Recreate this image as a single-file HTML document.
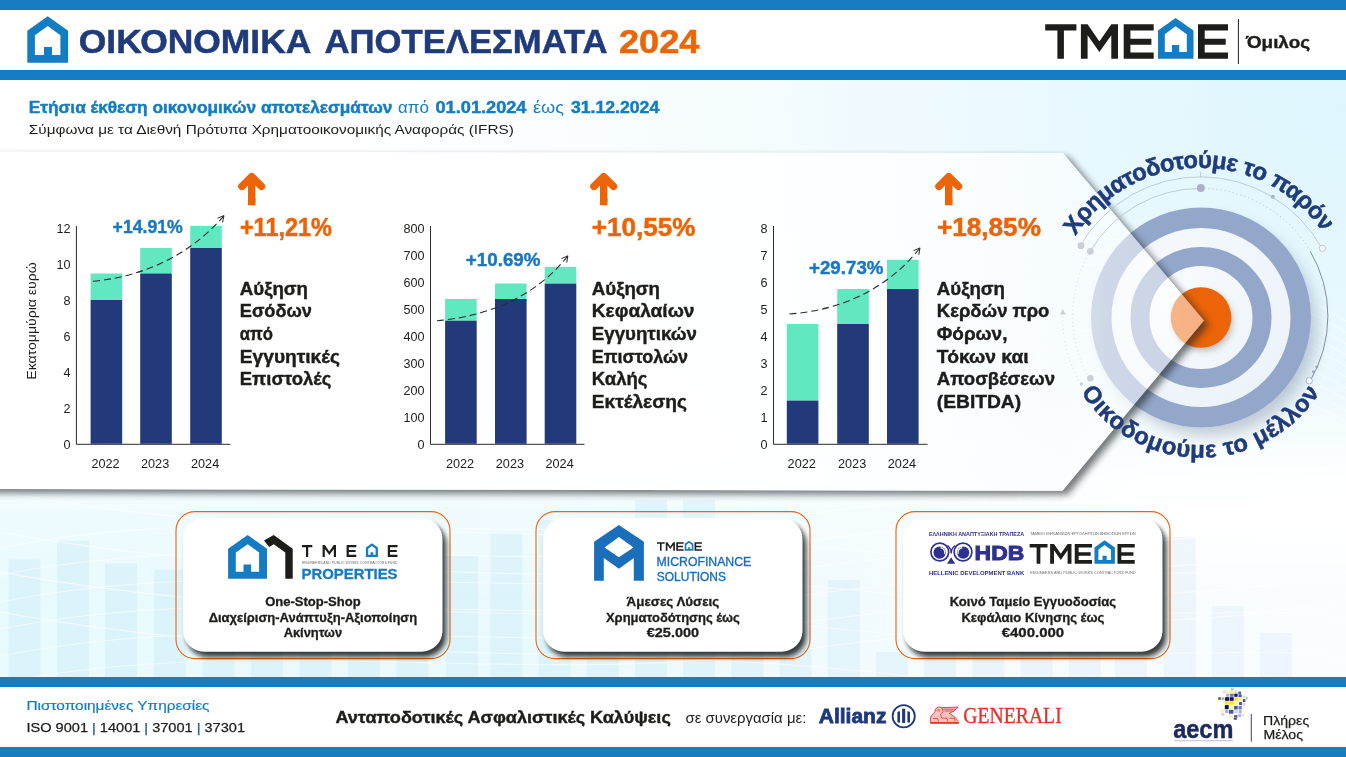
<!DOCTYPE html>
<html lang="el">
<head>
<meta charset="utf-8">
<title>ΟΙΚΟΝΟΜΙΚΑ ΑΠΟΤΕΛΕΣΜΑΤΑ 2024</title>
<style>
html,body{margin:0;padding:0;background:#fff;}
body{width:1346px;height:757px;overflow:hidden;font-family:"Liberation Sans",sans-serif;}
svg{display:block;position:absolute;left:0;top:0;will-change:transform;}
text{font-family:"Liberation Sans",sans-serif;}
.b{font-weight:bold;}
.serif{font-family:"Liberation Serif",serif;}
</style>
</head>
<body>
<svg width="1346" height="757" viewBox="0 0 1346 757">
<defs>
  <radialGradient id="bgTop" gradientUnits="userSpaceOnUse" cx="1346" cy="110" r="1000" gradientTransform="translate(1346 110) scale(1 0.8) translate(-1346 -110)">
    <stop offset="0" stop-color="#ddf6fd"/>
    <stop offset="0.35" stop-color="#ebf9fe"/>
    <stop offset="0.65" stop-color="#f6fcfe"/>
    <stop offset="1" stop-color="#ffffff"/>
  </radialGradient>
  <linearGradient id="bgFade" x1="0" y1="0" x2="0" y2="1">
    <stop offset="0" stop-color="#ffffff" stop-opacity="0"/>
    <stop offset="1" stop-color="#ffffff" stop-opacity="0.55"/>
  </linearGradient>
  <linearGradient id="bgLow" gradientUnits="userSpaceOnUse" x1="0" y1="0" x2="1346" y2="0">
    <stop offset="0" stop-color="#e8fafe"/>
    <stop offset="0.42" stop-color="#e9fafe"/>
    <stop offset="0.62" stop-color="#f0fbfe"/>
    <stop offset="0.76" stop-color="#f6fcfe"/>
    <stop offset="1" stop-color="#f9fdfe"/>
  </linearGradient>
  <linearGradient id="bgLowFade" x1="0" y1="0" x2="0" y2="1">
    <stop offset="0" stop-color="#ffffff" stop-opacity="0"/>
    <stop offset="0.45" stop-color="#ffffff" stop-opacity="0.9"/>
    <stop offset="0.64" stop-color="#ffffff" stop-opacity="0.9"/>
    <stop offset="1" stop-color="#ffffff" stop-opacity="0"/>
  </linearGradient>
  <linearGradient id="barFade" gradientUnits="userSpaceOnUse" x1="0" y1="0" x2="1346" y2="0">
    <stop offset="0" stop-color="#c9e9f5" stop-opacity="0.42"/>
    <stop offset="0.5" stop-color="#c9e9f5" stop-opacity="0.4"/>
    <stop offset="0.8" stop-color="#d6e8f5" stop-opacity="0.36"/>
    <stop offset="1" stop-color="#d6e8f5" stop-opacity="0.32"/>
  </linearGradient>
  
  <filter id="blur8" x="-30%" y="-30%" width="160%" height="160%"><feGaussianBlur stdDeviation="8"/></filter>
  <filter id="blur4" x="-30%" y="-30%" width="160%" height="160%"><feGaussianBlur stdDeviation="4"/></filter>
  <filter id="blur3" x="-30%" y="-30%" width="160%" height="160%"><feGaussianBlur stdDeviation="3"/></filter>
  <linearGradient id="panelFill" gradientUnits="userSpaceOnUse" x1="0" y1="0" x2="1204" y2="0">
    <stop offset="0" stop-color="#ffffff" stop-opacity="0.97"/>
    <stop offset="0.6" stop-color="#ffffff" stop-opacity="0.92"/>
    <stop offset="0.80" stop-color="#fdfeff" stop-opacity="0.84"/>
    <stop offset="0.885" stop-color="#fbfdff" stop-opacity="0.68"/>
    <stop offset="0.92" stop-color="#ffffff" stop-opacity="0.55"/>
    <stop offset="1" stop-color="#ffffff" stop-opacity="0.5"/>
  </linearGradient>
  <clipPath id="outsidePanel" clip-rule="evenodd">
    <path d="M-50 100H1400V560H-50Z M-20 151.8L1062.9 153L1204 320.4L1062.5 490.7L-20 489Z"/>
  </clipPath>
  <radialGradient id="discFill" gradientUnits="userSpaceOnUse" cx="1180" cy="290" r="150">
    <stop offset="0" stop-color="#f8fbfe"/>
    <stop offset="1" stop-color="#e9f1f8"/>
  </radialGradient>
<path id="arcTop" d="M1075.5 236.1A148.5 148.5 0 0 1 1322.7 232.0" fill="none"/>
<path id="arcBot" d="M1081.0 392.1A141.5 141.5 0 0 0 1319.7 392.5" fill="none"/>
<filter id="blur35" x="-5%" y="-10%" width="110%" height="120%"><feGaussianBlur stdDeviation="3.5"/></filter>
<filter id="blur25" x="-10%" y="-10%" width="120%" height="125%"><feGaussianBlur stdDeviation="2.6"/></filter>
<linearGradient id="lowMaskG" gradientUnits="userSpaceOnUse" x1="0" y1="455" x2="0" y2="515">
    <stop offset="0" stop-color="#000"/><stop offset="1" stop-color="#fff"/>
  </linearGradient>
  <mask id="lowMask" maskUnits="userSpaceOnUse" x="0" y="455" width="1346" height="225"><rect x="0" y="455" width="1346" height="225" fill="url(#lowMaskG)"/></mask>
<linearGradient id="fadeMaskXG" gradientUnits="userSpaceOnUse" x1="0" y1="0" x2="1346" y2="0">
    <stop offset="0" stop-color="#444"/><stop offset="0.7" stop-color="#555"/><stop offset="0.85" stop-color="#fff"/><stop offset="1" stop-color="#fff"/>
  </linearGradient>
  <mask id="fadeMaskX" maskUnits="userSpaceOnUse" x="0" y="380" width="1346" height="230"><rect x="0" y="380" width="1346" height="230" fill="url(#fadeMaskXG)"/></mask>
<!--DEFS-->
</defs>

<!-- ===== BACKGROUND ===== -->
<rect x="0" y="0" width="1346" height="757" fill="#ffffff"/>
<rect x="0" y="80" width="1346" height="420" fill="url(#bgTop)"/>
<rect x="0" y="455" width="1346" height="225" fill="url(#bgLow)" mask="url(#lowMask)"/>
<rect x="0" y="380" width="1346" height="230" fill="url(#bgLowFade)" mask="url(#fadeMaskX)"/>
<g fill="url(#barFade)"><rect x="8.4" y="559.6" width="32" height="117.4"/><rect x="57" y="541" width="32" height="136.0"/><rect x="105" y="563.6" width="32" height="113.4"/><rect x="154" y="569.6" width="32" height="107.4"/><rect x="202.5" y="585" width="32" height="92.0"/><rect x="251" y="560" width="32" height="117.0"/><rect x="299.5" y="548" width="32" height="129.0"/><rect x="348" y="570" width="32" height="107.0"/><rect x="396.5" y="590" width="32" height="87.0"/><rect x="446" y="555.8" width="32" height="121.2"/><rect x="490.4" y="532.7" width="32" height="144.3"/><rect x="538.6" y="520" width="32" height="157.0"/><rect x="586.8" y="545" width="32" height="132.0"/><rect x="635" y="500" width="32" height="177.0"/><rect x="683" y="500" width="32" height="177.0"/><rect x="731.4" y="540" width="32" height="137.0"/><rect x="779.6" y="560" width="32" height="117.0"/><rect x="827.8" y="580" width="32" height="97.0"/><rect x="876" y="652" width="32" height="25.0"/><rect x="924.2" y="610" width="32" height="67.0"/><rect x="972.4" y="590" width="32" height="87.0"/><rect x="1020.6" y="630" width="32" height="47.0"/><rect x="1068.8" y="640" width="32" height="37.0"/><rect x="1115" y="659" width="32" height="18.0"/><rect x="1163.8" y="537" width="32" height="140.0"/><rect x="1211.8" y="605.9" width="32" height="71.1"/><rect x="1260" y="633" width="32" height="44.0"/></g>
<g fill="none" stroke="#ffffff" stroke-width="1.1" opacity="0.6"><path d="M-10 550C250 495 520 555 800 515S1200 500 1360 460" /><path d="M-10 577C250 522 520 582 800 542S1200 527 1360 487" /><path d="M-10 604C250 549 520 609 800 569S1200 554 1360 514" /><path d="M-10 631C250 576 520 636 800 596S1200 581 1360 541" /><path d="M-10 658C250 603 520 663 800 623S1200 608 1360 568" /><path d="M-10 685C250 630 520 690 800 650S1200 635 1360 595" /><path d="M-10 490C300 550 600 520 900 555S1250 560 1360 580" /><path d="M-10 530C300 590 600 560 900 595S1250 600 1360 620" /><path d="M-10 570C300 630 600 600 900 635S1250 640 1360 660" /><path d="M-10 610C300 670 600 640 900 675S1250 680 1360 700" /></g>
<g fill="none" stroke="#ffffff" stroke-width="1" opacity="0.55"><path d="M980 250C1120 215 1250 260 1360 330"/><path d="M980 264C1120 228 1250 272 1360 341"/><path d="M980 278C1120 241 1250 284 1360 352"/><path d="M980 292C1120 254 1250 296 1360 363"/><path d="M980 306C1120 267 1250 308 1360 374"/><path d="M980 320C1120 280 1250 320 1360 385"/><path d="M980 334C1120 293 1250 332 1360 396"/><path d="M980 348C1120 306 1250 344 1360 407"/><path d="M980 362C1120 319 1250 356 1360 418"/><path d="M980 376C1120 332 1250 368 1360 429"/></g>
<!--BGDECOR-->

<!-- ===== HEADER ===== -->
<rect x="0" y="0" width="1346" height="10" fill="#167dc3"/>
<rect x="0" y="10" width="1346" height="60" fill="#ffffff"/>
<rect x="0" y="70" width="1346" height="10" fill="#167dc3"/>

<!-- house icon -->
<path fill="#147cc2" fill-rule="evenodd" d="M27.3 62.7V30.8L47.75 16.2L68.1 30.8V62.7Z M34.9 55V35.2L47.75 25.9L60.4 35.2V55H52V47H44V55Z"/>
<!-- title -->
<g class="b" font-weight="bold" font-size="34" fill="#1f3b7c" stroke="#1f3b7c" stroke-width="0.5">
  <text x="78.8" y="53.2" textLength="232.5" lengthAdjust="spacingAndGlyphs">ΟΙΚΟΝΟΜΙΚΑ</text>
  <text x="324.5" y="53.2" textLength="283" lengthAdjust="spacingAndGlyphs">ΑΠΟΤΕΛΕΣΜΑΤΑ</text>
  <text x="619" y="53.2" textLength="80.5" lengthAdjust="spacingAndGlyphs" fill="#ec6608" stroke="#ec6608">2024</text>
</g>
<!-- TMEDE logo -->
<g id="tmede">
  <g fill="#1d1d1b">
    <path d="M1045.2 24.2H1076.4V30.6H1063.9V58.8H1057.4V30.6H1045.2Z"/>
    <path d="M1080.9 58.8V24.2H1087.6L1099.4 41.5L1111.3 24.2H1118V58.8H1111.3V35.2L1099.4 52L1087.6 35.2V58.8Z"/>
    <path d="M1123.7 24.2H1153.7V30.6H1130.4V38.7H1151.4V44.7H1130.4V52.4H1153.7V58.8H1123.7Z"/>
    <path d="M1198 24.2H1228V30.6H1204.7V38.7H1225.7V44.7H1204.7V52.4H1228V58.8H1198Z"/>
  </g>
  <path fill="#147cc2" fill-rule="evenodd" d="M1158 58.8V30.6L1175.6 17.9L1193.5 30.6V58.8Z M1164.8 52.1V34.3L1175.6 26.3L1186.8 34.3V52.1H1179.2V45H1172V52.1Z"/>
</g>
<rect x="1237.9" y="19" width="1" height="45" fill="#1d1d1b"/>
<text x="1246" y="48.4" font-size="16.5" font-weight="bold" fill="#1d1d1b" textLength="64" lengthAdjust="spacingAndGlyphs" stroke="#1d1d1b" stroke-width="0.4">Όμιλος</text>
<!--HEADER-->


<!-- ===== SUBTITLE ===== -->
<g font-size="16.5" fill="#147cc2" stroke="#147cc2" stroke-width="0">
  <text x="28.8" y="113.2" font-weight="bold" stroke-width="0.45" textLength="363.6" lengthAdjust="spacingAndGlyphs">Ετήσια έκθεση οικονομικών αποτελεσμάτων</text>
  <text x="398" y="113.2" textLength="31" lengthAdjust="spacingAndGlyphs">από</text>
  <text x="435.5" y="113.2" font-weight="bold" stroke-width="0.45" textLength="91" lengthAdjust="spacingAndGlyphs">01.01.2024</text>
  <text x="533" y="113.2" textLength="31" lengthAdjust="spacingAndGlyphs">έως</text>
  <text x="571" y="113.2" font-weight="bold" stroke-width="0.45" textLength="88.2" lengthAdjust="spacingAndGlyphs">31.12.2024</text>
</g>
<text x="28.8" y="134.2" font-size="13.5" fill="#1d1d1b" textLength="485" lengthAdjust="spacingAndGlyphs">Σύμφωνα με τα Διεθνή Πρότυπα Χρηματοοικονομικής Αναφοράς (IFRS)</text>
<!--SUBTITLE-->


<!-- ===== TARGET GRAPHIC ===== -->
<g id="target">
  <circle cx="1209" cy="328" r="108" fill="#3a4a6b" opacity="0.28" filter="url(#blur8)"/>
  <circle cx="1201" cy="317.5" r="110" fill="url(#discFill)"/>
  <circle cx="1201" cy="317.5" r="99.75" fill="none" stroke="#93a7ca" stroke-width="20.5"/>
  <circle cx="1201" cy="317.5" r="61" fill="none" stroke="#93a7ca" stroke-width="19"/>
  <circle cx="1203" cy="321" r="30" fill="#5a3a20" opacity="0.3" filter="url(#blur3)"/>
  <circle cx="1201" cy="317.5" r="30.3" fill="#ec6408"/>
</g>
<!--TARGET-->


<!-- ===== PANEL ===== -->
<g clip-path="url(#outsidePanel)">
  <path d="M-20 151.8L1062.9 153L1204 320.4L1062.5 490.7L-20 489Z" transform="translate(5 4)" fill="#20262a" opacity="0.62" filter="url(#blur35)"/>
</g>
<path d="M-20 151.8L1062.9 153L1204 320.4L1062.5 490.7L-20 489Z" fill="url(#panelFill)"/>
<!--PANEL-->


<!-- ===== CHARTS ===== -->
<path d="M76.4 226V444.3H230.4" fill="none" stroke="#2b2b2b" stroke-width="1"/>
<rect x="90.6" y="273.5" width="31.6" height="26.5" fill="#62e8c0"/>
<rect x="90.6" y="300" width="31.6" height="143.8" fill="#223a7a"/>
<rect x="140.2" y="248" width="31.6" height="25.5" fill="#62e8c0"/>
<rect x="140.2" y="273.5" width="31.6" height="170.3" fill="#223a7a"/>
<rect x="190.2" y="226" width="31.6" height="22.0" fill="#62e8c0"/>
<rect x="190.2" y="248" width="31.6" height="195.8" fill="#223a7a"/>
<text x="70.4" y="449.2" font-size="12.6" text-anchor="end" fill="#1d1d1b">0</text>
<text x="70.4" y="413.2" font-size="12.6" text-anchor="end" fill="#1d1d1b">2</text>
<text x="70.4" y="377.2" font-size="12.6" text-anchor="end" fill="#1d1d1b">4</text>
<text x="70.4" y="341.2" font-size="12.6" text-anchor="end" fill="#1d1d1b">6</text>
<text x="70.4" y="305.2" font-size="12.6" text-anchor="end" fill="#1d1d1b">8</text>
<text x="70.4" y="269.2" font-size="12.6" text-anchor="end" fill="#1d1d1b">10</text>
<text x="70.4" y="233.2" font-size="12.6" text-anchor="end" fill="#1d1d1b">12</text>
<text x="105.5" y="467.6" font-size="12.4" text-anchor="middle" fill="#1d1d1b" textLength="28.2" lengthAdjust="spacingAndGlyphs">2022</text>
<text x="155.1" y="467.6" font-size="12.4" text-anchor="middle" fill="#1d1d1b" textLength="28.2" lengthAdjust="spacingAndGlyphs">2023</text>
<text x="205.1" y="467.6" font-size="12.4" text-anchor="middle" fill="#1d1d1b" textLength="28.2" lengthAdjust="spacingAndGlyphs">2024</text>
<text x="112.6" y="233" font-size="17.5" font-weight="bold" fill="#1a78c2" textLength="70.2" lengthAdjust="spacingAndGlyphs" stroke="#1a78c2" stroke-width="0.4">+14.91%</text>
<path d="M93 281.3C150 276 195 250 224 215.6" fill="none" stroke="#2b2b2b" stroke-width="1.1" stroke-dasharray="7 4"/><path d="M222.5 222.4L224 215.6L217.5 218.2" fill="none" stroke="#2b2b2b" stroke-width="1"/>
<text transform="translate(36.4 321) rotate(-90)" font-size="13" text-anchor="middle" fill="#1d1d1b" textLength="117.5" lengthAdjust="spacingAndGlyphs">Εκατομμύρια ευρώ</text>
<path d="M430.5 226V444.3H584.5" fill="none" stroke="#2b2b2b" stroke-width="1"/>
<rect x="445.1" y="299" width="31.6" height="21.7" fill="#62e8c0"/>
<rect x="445.1" y="320.7" width="31.6" height="123.1" fill="#223a7a"/>
<rect x="495" y="283.5" width="31.6" height="15.5" fill="#62e8c0"/>
<rect x="495" y="299" width="31.6" height="144.8" fill="#223a7a"/>
<rect x="544.7" y="266.8" width="31.6" height="16.8" fill="#62e8c0"/>
<rect x="544.7" y="283.6" width="31.6" height="160.2" fill="#223a7a"/>
<text x="424.5" y="449.2" font-size="12.6" text-anchor="end" fill="#1d1d1b">0</text>
<text x="424.5" y="422.2" font-size="12.6" text-anchor="end" fill="#1d1d1b">100</text>
<text x="424.5" y="395.2" font-size="12.6" text-anchor="end" fill="#1d1d1b">200</text>
<text x="424.5" y="368.2" font-size="12.6" text-anchor="end" fill="#1d1d1b">300</text>
<text x="424.5" y="341.2" font-size="12.6" text-anchor="end" fill="#1d1d1b">400</text>
<text x="424.5" y="314.2" font-size="12.6" text-anchor="end" fill="#1d1d1b">500</text>
<text x="424.5" y="287.2" font-size="12.6" text-anchor="end" fill="#1d1d1b">600</text>
<text x="424.5" y="260.2" font-size="12.6" text-anchor="end" fill="#1d1d1b">700</text>
<text x="424.5" y="233.2" font-size="12.6" text-anchor="end" fill="#1d1d1b">800</text>
<text x="460.0" y="467.6" font-size="12.4" text-anchor="middle" fill="#1d1d1b" textLength="28.2" lengthAdjust="spacingAndGlyphs">2022</text>
<text x="509.9" y="467.6" font-size="12.4" text-anchor="middle" fill="#1d1d1b" textLength="28.2" lengthAdjust="spacingAndGlyphs">2023</text>
<text x="559.6" y="467.6" font-size="12.4" text-anchor="middle" fill="#1d1d1b" textLength="28.2" lengthAdjust="spacingAndGlyphs">2024</text>
<text x="465.8" y="266.3" font-size="17.5" font-weight="bold" fill="#1a78c2" textLength="74.7" lengthAdjust="spacingAndGlyphs" stroke="#1a78c2" stroke-width="0.4">+10.69%</text>
<path d="M437 320.7C492 316 538 294 567.9 255.8" fill="none" stroke="#2b2b2b" stroke-width="1.1" stroke-dasharray="7 4"/><path d="M566.7 262.7L567.9 255.8L561.5 258.6" fill="none" stroke="#2b2b2b" stroke-width="1"/>
<path d="M773.5 226V444.3H927.5" fill="none" stroke="#2b2b2b" stroke-width="1"/>
<rect x="786.8" y="324" width="31.6" height="76.6" fill="#62e8c0"/>
<rect x="786.8" y="400.6" width="31.6" height="43.2" fill="#223a7a"/>
<rect x="837.2" y="289" width="31.6" height="35.0" fill="#62e8c0"/>
<rect x="837.2" y="324" width="31.6" height="119.8" fill="#223a7a"/>
<rect x="887" y="259.8" width="31.6" height="29.2" fill="#62e8c0"/>
<rect x="887" y="289" width="31.6" height="154.8" fill="#223a7a"/>
<text x="767.5" y="449.2" font-size="12.6" text-anchor="end" fill="#1d1d1b">0</text>
<text x="767.5" y="422.2" font-size="12.6" text-anchor="end" fill="#1d1d1b">1</text>
<text x="767.5" y="395.2" font-size="12.6" text-anchor="end" fill="#1d1d1b">2</text>
<text x="767.5" y="368.2" font-size="12.6" text-anchor="end" fill="#1d1d1b">3</text>
<text x="767.5" y="341.2" font-size="12.6" text-anchor="end" fill="#1d1d1b">4</text>
<text x="767.5" y="314.2" font-size="12.6" text-anchor="end" fill="#1d1d1b">5</text>
<text x="767.5" y="287.2" font-size="12.6" text-anchor="end" fill="#1d1d1b">6</text>
<text x="767.5" y="260.2" font-size="12.6" text-anchor="end" fill="#1d1d1b">7</text>
<text x="767.5" y="233.2" font-size="12.6" text-anchor="end" fill="#1d1d1b">8</text>
<text x="801.7" y="467.6" font-size="12.4" text-anchor="middle" fill="#1d1d1b" textLength="28.2" lengthAdjust="spacingAndGlyphs">2022</text>
<text x="852.1" y="467.6" font-size="12.4" text-anchor="middle" fill="#1d1d1b" textLength="28.2" lengthAdjust="spacingAndGlyphs">2023</text>
<text x="901.9" y="467.6" font-size="12.4" text-anchor="middle" fill="#1d1d1b" textLength="28.2" lengthAdjust="spacingAndGlyphs">2024</text>
<text x="809" y="273.7" font-size="17.5" font-weight="bold" fill="#1a78c2" textLength="74.5" lengthAdjust="spacingAndGlyphs" stroke="#1a78c2" stroke-width="0.4">+29.73%</text>
<path d="M789.4 314C845 310 890 286 920 247.9" fill="none" stroke="#2b2b2b" stroke-width="1.1" stroke-dasharray="7 4"/><path d="M918.8 254.8L920 247.9L913.6 250.7" fill="none" stroke="#2b2b2b" stroke-width="1"/>
<path d="M241.9 186.4L251.7 176.6L261.5 186.4M251.7 178V201.6" fill="none" stroke="#ec6408" stroke-width="7.4" stroke-linecap="round" stroke-linejoin="round"/><rect x="248.0" y="198" width="7.4" height="7.3" fill="#ec6408"/>
<text x="239.9" y="235.6" font-size="25" font-weight="bold" fill="#ec6408" textLength="92.1" lengthAdjust="spacingAndGlyphs" stroke="#ec6408" stroke-width="0.5">+11,21%</text>
<text x="239.8" y="294.5" font-size="17.5" font-weight="bold" fill="#1d1d1b" textLength="68.2" lengthAdjust="spacingAndGlyphs" stroke="#1d1d1b" stroke-width="0.4">Αύξηση</text>
<text x="239.8" y="317.2" font-size="17.5" font-weight="bold" fill="#1d1d1b" textLength="72.2" lengthAdjust="spacingAndGlyphs" stroke="#1d1d1b" stroke-width="0.4">Εσόδων</text>
<text x="239.8" y="339.9" font-size="17.5" font-weight="bold" fill="#1d1d1b" textLength="33.2" lengthAdjust="spacingAndGlyphs" stroke="#1d1d1b" stroke-width="0.4">από</text>
<text x="239.8" y="362.7" font-size="17.5" font-weight="bold" fill="#1d1d1b" textLength="100.1" lengthAdjust="spacingAndGlyphs" stroke="#1d1d1b" stroke-width="0.4">Εγγυητικές</text>
<text x="239.8" y="385.4" font-size="17.5" font-weight="bold" fill="#1d1d1b" textLength="91.5" lengthAdjust="spacingAndGlyphs" stroke="#1d1d1b" stroke-width="0.4">Επιστολές</text>
<path d="M593.9 186.4L603.7 176.6L613.5 186.4M603.7 178V201.6" fill="none" stroke="#ec6408" stroke-width="7.4" stroke-linecap="round" stroke-linejoin="round"/><rect x="600.0" y="198" width="7.4" height="7.3" fill="#ec6408"/>
<text x="591.7" y="235.6" font-size="25" font-weight="bold" fill="#ec6408" textLength="103.8" lengthAdjust="spacingAndGlyphs" stroke="#ec6408" stroke-width="0.5">+10,55%</text>
<text x="591.8" y="294.5" font-size="17.5" font-weight="bold" fill="#1d1d1b" textLength="68.2" lengthAdjust="spacingAndGlyphs" stroke="#1d1d1b" stroke-width="0.4">Αύξηση</text>
<text x="591.8" y="317.2" font-size="17.5" font-weight="bold" fill="#1d1d1b" textLength="102.7" lengthAdjust="spacingAndGlyphs" stroke="#1d1d1b" stroke-width="0.4">Κεφαλαίων</text>
<text x="591.8" y="339.9" font-size="17.5" font-weight="bold" fill="#1d1d1b" textLength="105.1" lengthAdjust="spacingAndGlyphs" stroke="#1d1d1b" stroke-width="0.4">Εγγυητικών</text>
<text x="591.8" y="362.7" font-size="17.5" font-weight="bold" fill="#1d1d1b" textLength="96.3" lengthAdjust="spacingAndGlyphs" stroke="#1d1d1b" stroke-width="0.4">Επιστολών</text>
<text x="591.8" y="385.4" font-size="17.5" font-weight="bold" fill="#1d1d1b" textLength="55.7" lengthAdjust="spacingAndGlyphs" stroke="#1d1d1b" stroke-width="0.4">Καλής</text>
<text x="591.8" y="408.1" font-size="17.5" font-weight="bold" fill="#1d1d1b" textLength="95.2" lengthAdjust="spacingAndGlyphs" stroke="#1d1d1b" stroke-width="0.4">Εκτέλεσης</text>
<path d="M938.9 186.4L948.7 176.6L958.5 186.4M948.7 178V201.6" fill="none" stroke="#ec6408" stroke-width="7.4" stroke-linecap="round" stroke-linejoin="round"/><rect x="945.0" y="198" width="7.4" height="7.3" fill="#ec6408"/>
<text x="936.9" y="235.6" font-size="25" font-weight="bold" fill="#ec6408" textLength="104" lengthAdjust="spacingAndGlyphs" stroke="#ec6408" stroke-width="0.5">+18,85%</text>
<text x="936.8" y="294.5" font-size="17.5" font-weight="bold" fill="#1d1d1b" textLength="68.2" lengthAdjust="spacingAndGlyphs" stroke="#1d1d1b" stroke-width="0.4">Αύξηση</text>
<text x="936.8" y="317.2" font-size="17.5" font-weight="bold" fill="#1d1d1b" textLength="112.6" lengthAdjust="spacingAndGlyphs" stroke="#1d1d1b" stroke-width="0.4">Κερδών προ</text>
<text x="936.8" y="339.9" font-size="17.5" font-weight="bold" fill="#1d1d1b" textLength="70.6" lengthAdjust="spacingAndGlyphs" stroke="#1d1d1b" stroke-width="0.4">Φόρων,</text>
<text x="936.8" y="362.7" font-size="17.5" font-weight="bold" fill="#1d1d1b" textLength="91.8" lengthAdjust="spacingAndGlyphs" stroke="#1d1d1b" stroke-width="0.4">Τόκων και</text>
<text x="936.8" y="385.4" font-size="17.5" font-weight="bold" fill="#1d1d1b" textLength="118.2" lengthAdjust="spacingAndGlyphs" stroke="#1d1d1b" stroke-width="0.4">Αποσβέσεων</text>
<text x="936.8" y="408.1" font-size="17.5" font-weight="bold" fill="#1d1d1b" textLength="84.3" lengthAdjust="spacingAndGlyphs" stroke="#1d1d1b" stroke-width="0.4">(EBITDA)</text>
<!--CHARTS-->


<!-- thin arcs -->
<g fill="none" stroke="#b4bccb" stroke-width="0.75">
  <path d="M1080.4 245.3A139.2 139.2 0 0 1 1322.0 248.4"/>
  <path d="M1090.3 251.3A127.6 127.6 0 0 1 1200.3 188.4"/>
  <path d="M1200.3 188.4A127.6 127.6 0 0 1 1309.1 249.3" stroke-dasharray="0.9 3.2" stroke="#9aa3b5"/>
  <path d="M1310.2 251.2A127.6 127.6 0 0 1 1310.0 381.2" stroke="#848da1" stroke-width="1"/>
  <path d="M1090.3 251.3A127.6 127.6 0 0 0 1089.3 378.9" stroke-dasharray="0.9 3.2" stroke="#c3c9d3"/>
  <path d="M1062.6 312.4A137.7 137.7 0 0 0 1080.8 384.4" stroke-dasharray="0.9 3.2" stroke="#c3c9d3"/>
  <path d="M1200.6 171.5V177.5"/>
</g>
<g fill="#c9ced8">
  <circle cx="1081" cy="245.7" r="3.4"/>
  <circle cx="1090.4" cy="251.3" r="3.4"/>
  <circle cx="1090.4" cy="378.3" r="3.3"/>
  <circle cx="1081.5" cy="384" r="1.7"/>
  <path d="M1062.8 309L1065.6 314.5H1060Z"/>
</g>
<circle cx="1200.8" cy="187.9" r="4" fill="#aab3c4"/>
<circle cx="1272.8" cy="196.7" r="2" fill="#aab3c4"/>
<circle cx="1316.8" cy="367" r="1.4" fill="#9aa3b5"/>
<circle cx="1313.4" cy="371.8" r="1.4" fill="#9aa3b5"/>
<circle cx="1322.4" cy="248.2" r="3.2" fill="#f4fbfe" stroke="#b4bccb" stroke-width="0.8"/>
<circle cx="1309.2" cy="380.8" r="3.2" fill="#f4fbfe" stroke="#9aa3b5" stroke-width="0.8"/>

<!-- curved texts -->
<text font-size="24" font-weight="bold" fill="#1f3b7c" stroke="#1f3b7c" stroke-width="0.5"><textPath href="#arcTop" startOffset="0" textLength="292.1" lengthAdjust="spacing">Χρηματοδοτούμε το παρόν</textPath></text>
<text font-size="24" font-weight="bold" fill="#1f3b7c" stroke="#1f3b7c" stroke-width="0.5"><textPath href="#arcBot" startOffset="0" textLength="284.0" lengthAdjust="spacing">Οικοδομούμε το μέλλον</textPath></text>
<!--CURVED-->


<!-- ===== CARDS ===== -->
<rect x="176" y="511.6" width="274" height="147" rx="19" ry="19" fill="none" stroke="#ec6408" stroke-width="1.1"/>
<rect x="186.7" y="523.2" width="259.5" height="133.7" rx="21" ry="21" fill="#0c0c0c" opacity="0.8" filter="url(#blur25)"/>
<rect x="183" y="518" width="259.5" height="133.7" rx="21" ry="21" fill="#ffffff"/>
<rect x="536" y="511.6" width="274" height="147" rx="19" ry="19" fill="none" stroke="#ec6408" stroke-width="1.1"/>
<rect x="546.7" y="523.2" width="259.5" height="133.7" rx="21" ry="21" fill="#0c0c0c" opacity="0.8" filter="url(#blur25)"/>
<rect x="543" y="518" width="259.5" height="133.7" rx="21" ry="21" fill="#ffffff"/>
<rect x="896" y="511.6" width="274" height="147" rx="19" ry="19" fill="none" stroke="#ec6408" stroke-width="1.1"/>
<rect x="906.7" y="523.2" width="259.5" height="133.7" rx="21" ry="21" fill="#0c0c0c" opacity="0.8" filter="url(#blur25)"/>
<rect x="903" y="518" width="259.5" height="133.7" rx="21" ry="21" fill="#ffffff"/>
<text x="312.9" y="606.2" text-anchor="middle" font-size="12.6" font-weight="bold" fill="#1d1d1b" textLength="95.4" lengthAdjust="spacingAndGlyphs" stroke="#1d1d1b" stroke-width="0.3">One-Stop-Shop</text>
<text x="312.9" y="621.6" text-anchor="middle" font-size="12.6" font-weight="bold" fill="#1d1d1b" textLength="208.5" lengthAdjust="spacingAndGlyphs" stroke="#1d1d1b" stroke-width="0.3">Διαχείριση-Ανάπτυξη-Αξιοποίηση</text>
<text x="312.9" y="637.0" text-anchor="middle" font-size="12.6" font-weight="bold" fill="#1d1d1b" textLength="58.5" lengthAdjust="spacingAndGlyphs" stroke="#1d1d1b" stroke-width="0.3">Ακίνητων</text>
<text x="672.9" y="606.2" text-anchor="middle" font-size="12.6" font-weight="bold" fill="#1d1d1b" textLength="92.6" lengthAdjust="spacingAndGlyphs" stroke="#1d1d1b" stroke-width="0.3">Άμεσες Λύσεις</text>
<text x="672.9" y="621.6" text-anchor="middle" font-size="12.6" font-weight="bold" fill="#1d1d1b" textLength="133.9" lengthAdjust="spacingAndGlyphs" stroke="#1d1d1b" stroke-width="0.3">Χρηματοδότησης έως</text>
<text x="672.9" y="637.0" text-anchor="middle" font-size="12.6" font-weight="bold" fill="#1d1d1b" textLength="52.3" lengthAdjust="spacingAndGlyphs" stroke="#1d1d1b" stroke-width="0.3">€25.000</text>
<text x="1032.9" y="606.2" text-anchor="middle" font-size="12.6" font-weight="bold" fill="#1d1d1b" textLength="166.4" lengthAdjust="spacingAndGlyphs" stroke="#1d1d1b" stroke-width="0.3">Κοινό Ταμείο Εγγυοδοσίας</text>
<text x="1032.9" y="621.6" text-anchor="middle" font-size="12.6" font-weight="bold" fill="#1d1d1b" textLength="143" lengthAdjust="spacingAndGlyphs" stroke="#1d1d1b" stroke-width="0.3">Κεφάλαιο Κίνησης έως</text>
<text x="1032.9" y="637.0" text-anchor="middle" font-size="12.6" font-weight="bold" fill="#1d1d1b" textLength="62.5" lengthAdjust="spacingAndGlyphs" stroke="#1d1d1b" stroke-width="0.3">€400.000</text>

<g id="logo-properties">
  <path fill="#147cc2" fill-rule="evenodd" d="M228.1 578.8V548.8L247.7 535.1L267 548.8V578.8Z M235.8 571.8V552.5L247.7 544.3L259.1 552.5V571.8H251.1V564.4H243.5V571.8Z"/>
  <path fill="#1d1d1b" d="M264 540.6L273.7 535.1L292.7 548.8V578.8H285.3V552.5L273.7 544.3L269.2 546.9Z"/>
  <g fill="#1d1d1b">
    <path d="M301.9 545.1H312.3V547.3H308.2V556.9H306V547.3H301.9Z"/>
    <path d="M322.6 556.9V545.1H324.9L329.3 551.4L333.7 545.1H336V556.9H333.8V548.9L329.3 555L324.8 548.9V556.9Z"/>
    <path d="M346.6 545.1H356.3V547.2H348.8V549.9H355.6V552H348.8V554.8H356.3V556.9H346.6Z"/>
    <path d="M387.8 545.1H397.5V547.2H390V549.9H396.8V552H390V554.8H397.5V556.9H387.8Z"/>
  </g>
  <path fill="#147cc2" fill-rule="evenodd" d="M365.9 556.9V547.5L371.9 543.2L377.9 547.5V556.9Z M368.2 554.7V548.7L371.9 546L375.6 548.7V554.7H373.2V552.3H370.6V554.7Z"/>
  <text x="301.9" y="563.6" font-size="3.9" fill="#6b6b6b" textLength="95.6" lengthAdjust="spacingAndGlyphs">ENGINEERS AND PUBLIC WORKS CONTRACTORS FUND</text>
  <text x="301.5" y="578.9" font-size="14.3" font-weight="bold" fill="#147cc2" stroke="#147cc2" stroke-width="0.3" textLength="96" lengthAdjust="spacingAndGlyphs">PROPERTIES</text>
</g>


<g id="logo-micro">
  <path fill="#1b6fba" fill-rule="evenodd" d="M594.1 580.7V541.7L618.9 525.1L643.9 541.7V580.7H633.8V558.1L618.9 568.8L603.8 558.1V580.7Z M618.9 537L633.5 547.4L618.9 557.3L604.5 547.4Z"/>
  <g transform="translate(657 542.2) scale(0.2457) translate(-1045.2 -24.2)"><g fill="#1d1d1b"><path d="M1045.2 24.2H1076.4V30.6H1063.9V58.8H1057.4V30.6H1045.2Z"/><path d="M1080.9 58.8V24.2H1087.6L1099.4 41.5L1111.3 24.2H1118V58.8H1111.3V35.2L1099.4 52L1087.6 35.2V58.8Z"/><path d="M1123.7 24.2H1153.7V30.6H1130.4V38.7H1151.4V44.7H1130.4V52.4H1153.7V58.8H1123.7Z"/><path d="M1198 24.2H1228V30.6H1204.7V38.7H1225.7V44.7H1204.7V52.4H1228V58.8H1198Z"/></g><path fill="#147cc2" fill-rule="evenodd" d="M1158 58.8V30.6L1175.6 17.9L1193.5 30.6V58.8Z M1164.8 52.1V34.3L1175.6 26.3L1186.8 34.3V52.1H1179.2V45H1172V52.1Z"/></g>
  <text x="656.6" y="565.8" font-size="12" fill="#1b6fba" stroke="#1b6fba" stroke-width="0.35" textLength="94.6" lengthAdjust="spacingAndGlyphs">MICROFINANCE</text>
  <text x="656.8" y="580.7" font-size="12" fill="#1b6fba" stroke="#1b6fba" stroke-width="0.35" textLength="69.2" lengthAdjust="spacingAndGlyphs">SOLUTIONS</text>
</g>


<g id="logo-hdb">
  <text x="928.9" y="535.7" font-size="5.8" font-weight="bold" fill="#2e3192" textLength="95.3" lengthAdjust="spacingAndGlyphs">ΕΛΛΗΝΙΚΗ ΑΝΑΠΤΥΞΙΑΚΗ ΤΡΑΠΕΖΑ</text>
  <g fill="none" stroke="#2e3192" stroke-width="1.7">
    <circle cx="939.8" cy="552" r="8.9"/>
    <circle cx="963" cy="552" r="8.9"/>
  </g>
  <circle cx="939.6" cy="552.6" r="6.1" fill="#2e3192"/>
  <circle cx="963.2" cy="552.6" r="6.1" fill="#2e3192"/>
  <path d="M940.5 547.6Q945.4 548.6 944.6 553.8" fill="none" stroke="#ffffff" stroke-width="1.1"/>
  <path d="M962.3 547.6Q957.4 548.6 958.2 553.8" fill="none" stroke="#ffffff" stroke-width="1.1"/>
  <path d="M951.1 557.2L955.2 563.8H947Z" fill="#2e3192"/>
  <path d="M947.5 545.5Q951.2 548.5 951.2 553.5Q951.2 548.5 955 545.5" fill="none" stroke="#2e3192" stroke-width="1.4"/>
  <text x="974.6" y="560.3" font-size="21" font-weight="bold" fill="#2e3192" stroke="#2e3192" stroke-width="1" textLength="49.6" lengthAdjust="spacingAndGlyphs">HDB</text>
  <text x="928.9" y="574.7" font-size="5.4" font-weight="bold" fill="#2e3192" textLength="95.3" lengthAdjust="spacingAndGlyphs">HELLENIC DEVELOPMENT BANK</text>
  <text x="1030.2" y="535.4" font-size="3.9" fill="#6b6b6b" textLength="105.5" lengthAdjust="spacingAndGlyphs">ΤΑΜΕΙΟ ΜΗΧΑΝΙΚΩΝ ΕΡΓΟΛΗΠΤΩΝ ΔΗΜΟΣΙΩΝ ΕΡΓΩΝ</text>
  <g transform="translate(1029.6 543.9) scale(0.5751) translate(-1045.2 -24.2)"><g fill="#1d1d1b"><path d="M1045.2 24.2H1076.4V30.6H1063.9V58.8H1057.4V30.6H1045.2Z"/><path d="M1080.9 58.8V24.2H1087.6L1099.4 41.5L1111.3 24.2H1118V58.8H1111.3V35.2L1099.4 52L1087.6 35.2V58.8Z"/><path d="M1123.7 24.2H1153.7V30.6H1130.4V38.7H1151.4V44.7H1130.4V52.4H1153.7V58.8H1123.7Z"/><path d="M1198 24.2H1228V30.6H1204.7V38.7H1225.7V44.7H1204.7V52.4H1228V58.8H1198Z"/></g><path fill="#147cc2" fill-rule="evenodd" d="M1158 58.8V30.6L1175.6 17.9L1193.5 30.6V58.8Z M1164.8 52.1V34.3L1175.6 26.3L1186.8 34.3V52.1H1179.2V45H1172V52.1Z"/></g>
  <text x="1030.2" y="573.8" font-size="3.9" fill="#6b6b6b" textLength="105.5" lengthAdjust="spacingAndGlyphs">ENGINEERS AND PUBLIC WORKS CONTRACTORS FUND</text>
</g>

<!--CARDS-->

<!-- ===== FOOTER ===== -->
<rect x="0" y="677" width="1346" height="10" fill="#167dc3"/>
<rect x="0" y="687" width="1346" height="60" fill="#ffffff"/>
<rect x="0" y="747" width="1346" height="10" fill="#167dc3"/>

<text x="26.5" y="709.7" font-size="13.5" fill="#147cc2" stroke="#147cc2" stroke-width="0.2" textLength="183" lengthAdjust="spacingAndGlyphs">Πιστοποιημένες Υπηρεσίες</text>
<text x="26.5" y="731.5" font-size="13.5" fill="#1d1d1b" stroke="#1d1d1b" stroke-width="0.25" textLength="218.5" lengthAdjust="spacingAndGlyphs">ISO 9001 <tspan fill="#147cc2">|</tspan> 14001 <tspan fill="#147cc2">|</tspan> 37001 <tspan fill="#147cc2">|</tspan> 37301</text>
<text x="335.4" y="723.4" font-size="16.5" font-weight="bold" fill="#1d1d1b" textLength="335.4" lengthAdjust="spacingAndGlyphs" stroke="#1d1d1b" stroke-width="0.4">Ανταποδοτικές Ασφαλιστικές Καλύψεις</text>
<text x="685.5" y="723.4" font-size="14" fill="#1d1d1b" textLength="120.8" lengthAdjust="spacingAndGlyphs">σε συνεργασία με:</text>

<!-- Allianz -->
<text x="818.7" y="723.3" font-size="21" font-weight="bold" fill="#1e3a7b" stroke="#1e3a7b" stroke-width="0.8" textLength="67.8" lengthAdjust="spacingAndGlyphs">Allianz</text>
<circle cx="903.7" cy="716.3" r="11.1" fill="none" stroke="#1e3a7b" stroke-width="1.8"/>
<rect x="902.1" y="708.7" width="3.1" height="14.2" fill="#1e3a7b"/>
<path d="M897.4 722.5V712.6Q897.4 711.3 900 711.3V722.5Z M910 722.5V712.6Q910 711.3 907.4 711.3V722.5Z" fill="#1e3a7b"/>
<!-- Generali -->
<g id="lion">
  <path d="M930.1 722.1L931.1 716L934.5 712.7L935.8 708.7L938.5 706.9L941.8 707.7L958.2 707L954.5 710.7L949.2 713.4L954.5 716.7L958.5 721.4V722.1Z" fill="#e3342a" opacity="0.3"/>
  <path d="M930.1 722.1L931.1 716L934.5 712.7L935.8 708.7L938.5 706.9L941.8 707.7L958.2 707L954.5 710.7L949.2 713.4L954.5 716.7L958.5 721.4" fill="none" stroke="#e3342a" stroke-width="0.9" stroke-linejoin="round"/>
  <path d="M941.8 707.7L943.2 711.5L940.5 714.5L941.5 718M943.5 709.2H955.5M944.5 711H953.5M933 718.5H937.5L938.5 721.5M942 718.2H947L947.8 721.5M949.5 718.2H954.5L955.3 721.5M936.5 710.5L938.8 709.5L939.5 711.8" fill="none" stroke="#e3342a" stroke-width="0.8"/>
  <rect x="930.1" y="722" width="28.8" height="1.8" fill="#e3342a"/>
</g>
<text class="serif" font-family="Liberation Serif, serif" x="963.3" y="723.3" font-size="22.6" fill="#e3342a" stroke="#e3342a" stroke-width="0.35" textLength="98.4" lengthAdjust="spacingAndGlyphs">GENERALI</text>
<!-- aecm -->
<g id="aecm-mosaic"><rect x="1230.9" y="688.4" width="2.8" height="1.5" fill="#a7aed4"/><rect x="1223.0" y="690.5" width="2.6" height="2.6" fill="#d6d9eb"/><rect x="1226.1" y="690.3" width="3.3" height="3.1" fill="#fff4a8"/><rect x="1230.1" y="690.3" width="3.6" height="3.1" fill="#fff07a"/><rect x="1234.3" y="690.5" width="3.3" height="2.8" fill="#d6d9eb"/><rect x="1238.3" y="691.6" width="2.8" height="2.3" fill="#4b56a0"/><rect x="1226.1" y="693.7" width="2.8" height="3.1" fill="#a7aed4"/><rect x="1229.8" y="693.7" width="3.9" height="3.1" fill="#6f78b5"/><rect x="1234.3" y="693.7" width="3.3" height="3.1" fill="#0b1458"/><rect x="1238.5" y="694.2" width="3.1" height="3.1" fill="#4b56a0"/><rect x="1218.2" y="697.2" width="2.6" height="2.6" fill="#4b56a0"/><rect x="1221.6" y="697.2" width="2.8" height="2.8" fill="#a7aed4"/><rect x="1225.1" y="697.2" width="3.9" height="3.6" fill="#0b1458"/><rect x="1229.6" y="697.2" width="4.1" height="3.6" fill="#0b1458"/><rect x="1234.3" y="697.4" width="3.6" height="3.3" fill="#ffe400"/><rect x="1238.5" y="697.9" width="3.6" height="3.1" fill="#fff4a8"/><rect x="1243.0" y="695.8" width="2.3" height="2.3" fill="#d6d9eb"/><rect x="1245.9" y="696.9" width="1.5" height="2.6" fill="#a7aed4"/><rect x="1224.8" y="701.1" width="3.9" height="3.6" fill="#ffe400"/><rect x="1229.3" y="701.1" width="4.4" height="3.6" fill="#ffe400"/><rect x="1234.3" y="701.1" width="3.9" height="3.9" fill="#fff4a8"/><rect x="1239.1" y="701.9" width="2.8" height="3.3" fill="#4b56a0"/><rect x="1242.8" y="699.0" width="2.6" height="3.1" fill="#4b56a0"/><rect x="1242.5" y="702.7" width="2.8" height="3.1" fill="#d6d9eb"/><rect x="1224.8" y="705.1" width="3.9" height="3.9" fill="#0b1458"/><rect x="1229.3" y="705.1" width="4.1" height="3.9" fill="#fff4a8"/><rect x="1234.1" y="705.9" width="3.6" height="3.6" fill="#4b56a0"/><rect x="1238.5" y="706.1" width="3.3" height="3.3" fill="#6f78b5"/><rect x="1220.8" y="709.0" width="3.3" height="3.6" fill="#fff4a8"/><rect x="1225.1" y="709.3" width="3.3" height="3.6" fill="#a7aed4"/><rect x="1229.0" y="709.8" width="4.4" height="3.9" fill="#4b56a0"/><rect x="1234.3" y="710.1" width="3.9" height="3.3" fill="#d6d9eb"/><rect x="1238.8" y="710.1" width="2.8" height="3.3" fill="#a7aed4"/><rect x="1221.1" y="713.0" width="3.1" height="2.8" fill="#d6d9eb"/><rect x="1229.0" y="714.3" width="4.4" height="3.1" fill="#fff4a8"/><rect x="1234.1" y="715.1" width="3.3" height="2.6" fill="#4b56a0"/><rect x="1238.3" y="714.3" width="2.8" height="2.6" fill="#a7aed4"/><rect x="1242.0" y="714.3" width="2.3" height="2.0" fill="#d6d9eb"/><rect x="1233.8" y="718.0" width="3.1" height="1.8" fill="#4b56a0"/></g>
<text x="1173.2" y="738.3" font-size="26.5" font-weight="bold" fill="#1b2a5c" textLength="60.2" lengthAdjust="spacingAndGlyphs" stroke="#1b2a5c" stroke-width="0.5">aecm</text>
<rect x="1174" y="739.9" width="59" height="1.4" fill="#c9cddc"/>
<rect x="1250.8" y="714" width="1" height="27.8" fill="#3a4570"/>
<text x="1263" y="725.1" font-size="13.6" fill="#1d1d1b" stroke="#1d1d1b" stroke-width="0.25" textLength="46.2" lengthAdjust="spacingAndGlyphs">Πλήρες</text>
<text x="1263.4" y="738.9" font-size="13.6" fill="#1d1d1b" stroke="#1d1d1b" stroke-width="0.25" textLength="39.6" lengthAdjust="spacingAndGlyphs">Μέλος</text>
<!--FOOTER-->
</svg>
</body>
</html>
